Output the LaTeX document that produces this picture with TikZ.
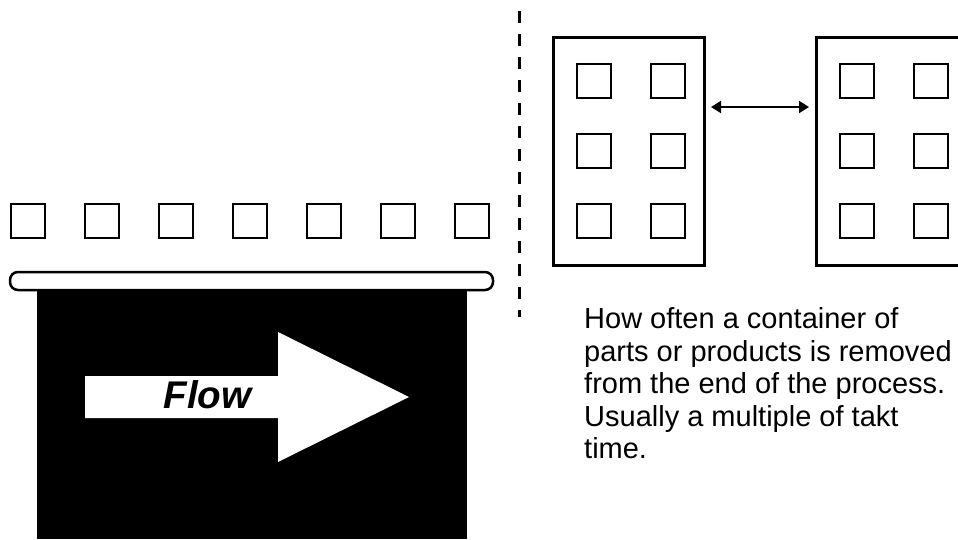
\documentclass[tikz,border=0pt]{standalone}
\usepackage{fontspec}
\setmainfont{Liberation Sans}
\usetikzlibrary{arrows.meta}
\tikzset{
  part/.style={draw=black, line width=2pt, fill=white, minimum size=34pt, inner sep=0pt, outer sep=0pt},
  container/.style={draw=black, line width=3pt, fill=white, minimum width=151pt, minimum height=228pt, inner sep=0pt, outer sep=0pt},
  link/.style={line width=2pt, {Triangle[length=10pt,width=12pt]}-{Triangle[length=10pt,width=12pt]}},
}
\begin{document}
\begin{tikzpicture}[x=1pt,y=-1pt]
\useasboundingbox (0,0) rectangle (958,539);
\clip (0,0) rectangle (958,539);
% process box
\fill[black] (37,290) rectangle (467,539);
\node[draw=black, line width=2.5pt, fill=white, rounded corners=8pt, minimum width=483pt, minimum height=18pt, inner sep=0pt] (bar) at (251.5,281) {};
% flow arrow
\fill[white] (85,376) -- (278,376) -- (278,332) -- (409,397) -- (278,462) -- (278,418) -- (85,418) -- cycle;
\node[font=\fontsize{38.6}{40}\selectfont\bfseries\itshape, inner sep=0pt] (flow) at (207.5,395) {Flow};
% parts on the line
\foreach \i/\x in {1/28,2/102,3/176,4/250,5/324,6/398,7/472}
  \node[part] (p\i) at (\x,220.5) {};
% dashed divider
\draw[line width=3pt, dash pattern=on 12pt off 11pt] (519,11) -- (519,317);
% containers
\node[container] (c1) at (628.5,151) {};
\node[container] (c2) at (891.5,151) {};
\foreach \r/\y in {1/80.5,2/150.5,3/220.5}{
  \node[part] (a\r1) at (594,\y) {};
  \node[part] (a\r2) at (668,\y) {};
  \node[part] (b\r1) at (857,\y) {};
  \node[part] (b\r2) at (931,\y) {};
}
\draw[link, shorten <=7pt, shorten >=7pt] ([yshift=44pt]c1.east) -- ([yshift=44pt]c2.west);
% description
\node[anchor=north west, align=left, inner sep=0pt, font=\fontsize{29}{32.5}\selectfont] (desc) at (584,307.5)
  {How often a container of\\parts or products is removed\\from the end of the process.\\Usually a multiple of takt\\time.};
\end{tikzpicture}
\end{document}
